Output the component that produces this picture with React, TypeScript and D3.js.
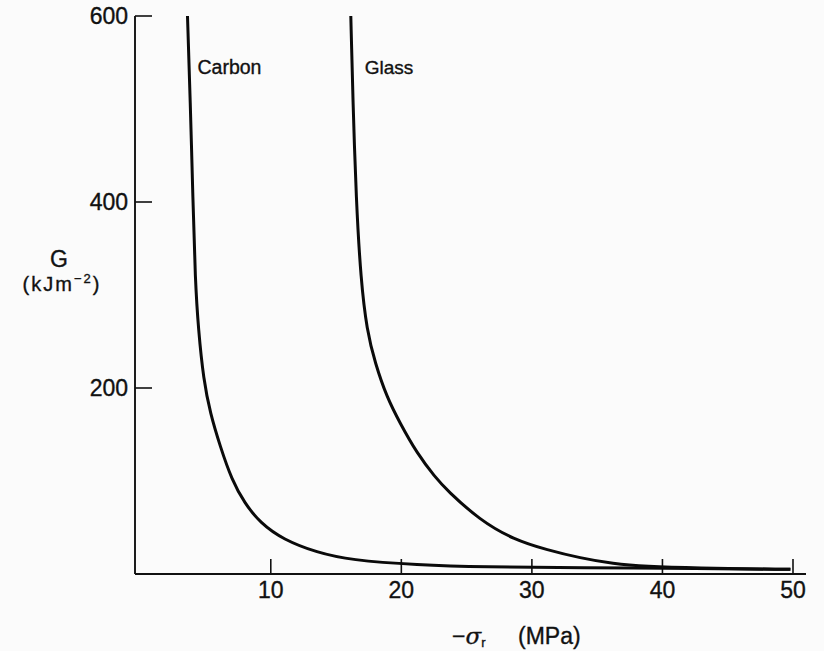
import React from "react";
import * as d3 from "d3";

// Data
const carbonStress = [3.62, 3.83, 4.04, 4.21, 4.46, 4.85, 5.36, 6.13, 7.02, 8.0, 9.19, 10.95, 13.55, 16.08, 21.2, 26.3, 33.7, 42.9, 49.8];
const carbonG = [600, 510, 402, 316, 262, 209, 173, 137, 101, 76, 55, 37, 23, 15, 9.7, 7.5, 6.8, 5.8, 5];

const glassStress = [16.13, 16.29, 16.54, 16.9, 17.36, 17.99, 18.89, 19.91, 21.19, 22.59, 23.5, 26.0, 28.6, 31.2, 33.7, 36.2, 38.8, 42.3, 49.8];
const glassG = [600, 510, 402, 316, 262, 227, 190, 162, 130, 104, 90, 58, 37, 25.8, 17.2, 11, 8, 6.3, 5];

const xTicks = [10, 20, 30, 40, 50];
const yTicks = [200, 400, 600];

const seriesNames = ["Carbon", "Glass"];

const W = 824;
const H = 651;
const FONT = "'Liberation Sans', Arial, Helvetica, sans-serif";
const INK = "#111";

export default function App() {
  const x = d3.scaleLinear().domain([-0.4, 50]).range([135, 793]);
  const y = d3.scaleLinear().domain([0, 600]).range([574, 16]);

  const line = d3
    .line<[number, number]>()
    .x((d) => x(d[0]))
    .y((d) => y(d[1]))
    .curve(d3.curveBasis);

  const carbon: [number, number][] = carbonStress.map((s, i) => [s, carbonG[i]]);
  const glass: [number, number][] = glassStress.map((s, i) => [s, glassG[i]]);

  const x0 = x.range()[0];
  const y0 = y(0);
  const tickLen = 15;
  const textProps = { fill: INK, stroke: INK, strokeWidth: 0.35 };

  return (
    <svg
      width={W}
      height={H}
      style={{ position: "absolute", left: 0, top: 0, background: "#fbfbfb" }}
      fontFamily={FONT}
    >
      <rect x={0} y={0} width={W} height={H} fill="#fbfbfb" />
      {/* axes */}
      <line x1={x0} y1={y(600)} x2={x0} y2={y0} stroke={INK} strokeWidth={1.9} />
      <line x1={x0} y1={y0} x2={806} y2={y0} stroke={INK} strokeWidth={1.9} />

      {/* y ticks */}
      {yTicks.map((t) => (
        <g key={"y" + t}>
          <line x1={x0} x2={x0 + tickLen + 2} y1={y(t)} y2={y(t)} stroke={INK} strokeWidth={1.6} />
          <text x={x0 - 7} y={y(t) + 8} textAnchor="end" fontSize={23} {...textProps}>
            {t}
          </text>
        </g>
      ))}

      {/* x ticks */}
      {xTicks.map((t) => (
        <g key={"x" + t}>
          <line x1={x(t)} x2={x(t)} y1={y0} y2={y0 - tickLen} stroke={INK} strokeWidth={1.6} />
          <text x={x(t)} y={y0 + 24} textAnchor="middle" fontSize={23} {...textProps}>
            {t}
          </text>
        </g>
      ))}

      {/* curves */}
      <path d={line(carbon) || ""} fill="none" stroke="#0a0a0a" strokeWidth={3} />
      <path d={line(glass) || ""} fill="none" stroke="#0a0a0a" strokeWidth={3} />

      {/* curve labels */}
      <text x={x(carbonStress[0]) + 10} y={74} fontSize={19.5} {...textProps}>
        {seriesNames[0]}
      </text>
      <text x={x(glassStress[0]) + 14} y={74} fontSize={19} {...textProps}>
        {seriesNames[1]}
      </text>

      {/* y axis title */}
      <text x={59} y={267} textAnchor="middle" fontSize={23} {...textProps}>
        G
      </text>
      <text x={62} y={291} textAnchor="middle" fontSize={20} letterSpacing={2} {...textProps}>
        (kJm<tspan fontSize={13} dy={-8}>−2</tspan>
        <tspan dy={8}>)</tspan>
      </text>

      {/* x axis title */}
      <text x={452} y={644} fontSize={23} {...textProps}>
        −<tspan fontStyle="italic" fontFamily="'DejaVu Serif', serif">σ</tspan>
        <tspan fontSize={13} dy={3}>r</tspan>
      </text>
      <text x={518} y={644} fontSize={23} {...textProps}>
        (MPa)
      </text>
    </svg>
  );
}
